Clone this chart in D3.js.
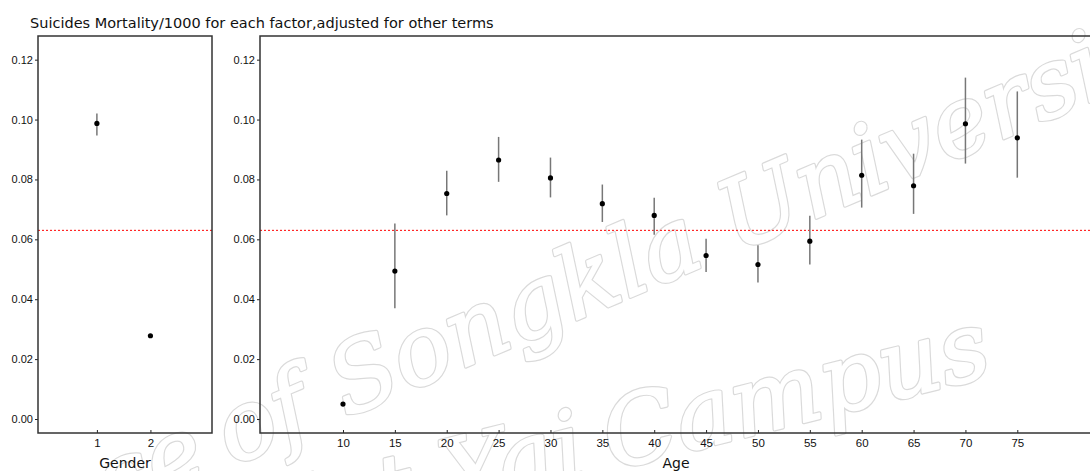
<!DOCTYPE html>
<html>
<head>
<meta charset="utf-8">
<script src="https://cdn.jsdelivr.net/npm/d3@7"></script>
<style>
  body { margin: 0; background: #fff; }
  svg { display: block; font-family: "DejaVu Sans", Verdana, sans-serif; }
</style>
</head>
<body>
<div id="chart"></div>
<script>
// Gender panel
const genderLevels = [1, 2];
const genderFit = [0.0987, 0.0278];
const genderLo = [0.0947, 0.0273];
const genderHi = [0.1020, 0.0283];

// Age panel
const ageLevels = [10, 15, 20, 25, 30, 35, 40, 45, 50, 55, 60, 65, 70, 75];
const ageFit = [0.0050, 0.0494, 0.0753, 0.0865, 0.0805, 0.0719, 0.0680, 0.0546, 0.0516, 0.0594, 0.0814, 0.0779, 0.0986, 0.0939];
const ageLo  = [0.0044, 0.0370, 0.0680, 0.0792, 0.0740, 0.0658, 0.0615, 0.0491, 0.0456, 0.0516, 0.0706, 0.0685, 0.0853, 0.0806];
const ageHi  = [0.0056, 0.0653, 0.0829, 0.0942, 0.0873, 0.0783, 0.0739, 0.0602, 0.0580, 0.0679, 0.0933, 0.0886, 0.1140, 0.1094];

const yTicks = [0, 0.02, 0.04, 0.06, 0.08, 0.10, 0.12];
const overallRate = 0.063;
const title = "Suicides Mortality/1000 for each factor,adjusted for other terms";

const width = 1090, height = 471;

const svg = d3.select("#chart")
    .append("svg")
    .attr("width", width)
    .attr("height", height);

svg.append("rect").attr("width", width).attr("height", height).attr("fill", "#fff");

// watermark: hollow, double-outlined script text behind the chart
function watermark(strokeColor, strokeW, fill) {
    const wm = svg.append("g")
        .attr("fill", fill)
        .attr("stroke", strokeColor)
        .attr("stroke-width", strokeW)
        .attr("stroke-linejoin", "round")
        .style("font-family", "'DejaVu Serif', serif")
        .style("font-style", "italic")
        .style("font-size", "96px");
    const a = wm.append("g").attr("transform", "translate(232,466) rotate(-23)");
    a.append("text").text("of Songkla University");
    a.append("text").attr("x", -22).attr("text-anchor", "end").text("Prince");
    const b = wm.append("g").attr("transform", "translate(612,470) rotate(-14)");
    b.append("text").text("Campus");
    b.append("text").attr("x", -22).attr("text-anchor", "end").text("Hat Yai");
}
watermark("#dadada", 4, "none");
watermark("#ffffff", 1.6, "#ffffff");

const y = d3.scaleLinear()
    .domain([-0.00467, 0.1279])
    .range([433, 36]);

// panel definitions
const panels = [
    {
        x: d3.scaleLinear().domain([-0.1, 3.15]).range([38, 212]),
        levels: genderLevels, fit: genderFit, lo: genderLo, hi: genderHi,
        label: "Gender"
    },
    {
        x: d3.scaleLinear().domain([2, 82.2]).range([260, 1092]),
        levels: ageLevels, fit: ageFit, lo: ageLo, hi: ageHi,
        label: "Age"
    }
];

panels.forEach(p => {
    const [x0, x1] = p.x.range();
    const g = svg.append("g");

    // y axis
    const ya = g.append("g")
        .attr("transform", `translate(${x0},0)`)
        .call(d3.axisLeft(y).tickValues(yTicks).tickFormat(d3.format(".2f")).tickSize(3).tickPadding(2));
    ya.select(".domain").remove();
    ya.selectAll("text").style("font-size", "11px").attr("fill", "#111");
    ya.selectAll("line").attr("stroke", "#222");

    // x axis
    const xa = g.append("g")
        .attr("transform", `translate(0,433)`)
        .call(d3.axisBottom(p.x).tickValues(p.levels).tickFormat(d3.format("d")).tickSize(-3).tickPadding(6));
    xa.select(".domain").remove();
    xa.selectAll("text").style("font-size", "11.5px").attr("fill", "#111");
    xa.selectAll("line").attr("stroke", "#222");

    // overall rate line
    g.append("line")
        .attr("x1", x0).attr("x2", x1)
        .attr("y1", y(overallRate)).attr("y2", y(overallRate))
        .attr("stroke", "#f00")
        .attr("stroke-width", 1)
        .attr("stroke-dasharray", "2,2");

    // error bars
    g.selectAll(".err")
        .data(p.levels)
        .enter().append("line")
        .attr("class", "err")
        .attr("x1", d => p.x(d)).attr("x2", d => p.x(d))
        .attr("y1", (d, i) => y(p.lo[i]))
        .attr("y2", (d, i) => y(p.hi[i]))
        .attr("stroke", "#777")
        .attr("stroke-width", 1.5);

    // points
    g.selectAll(".pt")
        .data(p.levels)
        .enter().append("circle")
        .attr("class", "pt")
        .attr("cx", d => p.x(d))
        .attr("cy", (d, i) => y(p.fit[i]))
        .attr("r", 2.6)
        .attr("fill", "#000");

    // panel border
    g.append("rect")
        .attr("x", x0).attr("y", 36)
        .attr("width", x1 - x0).attr("height", 433 - 36)
        .attr("fill", "none")
        .attr("stroke", "#333")
        .attr("stroke-width", 1.5);

    // x label
    g.append("text")
        .attr("x", (x0 + x1) / 2)
        .attr("y", 468)
        .attr("text-anchor", "middle")
        .style("font-size", "14px")
        .attr("fill", "#111")
        .text(p.label);
});

svg.append("text")
    .attr("x", 30)
    .attr("y", 28)
    .style("font-size", "14.5px")
    .attr("fill", "#111")
    .text(title);
</script>
</body>
</html>
